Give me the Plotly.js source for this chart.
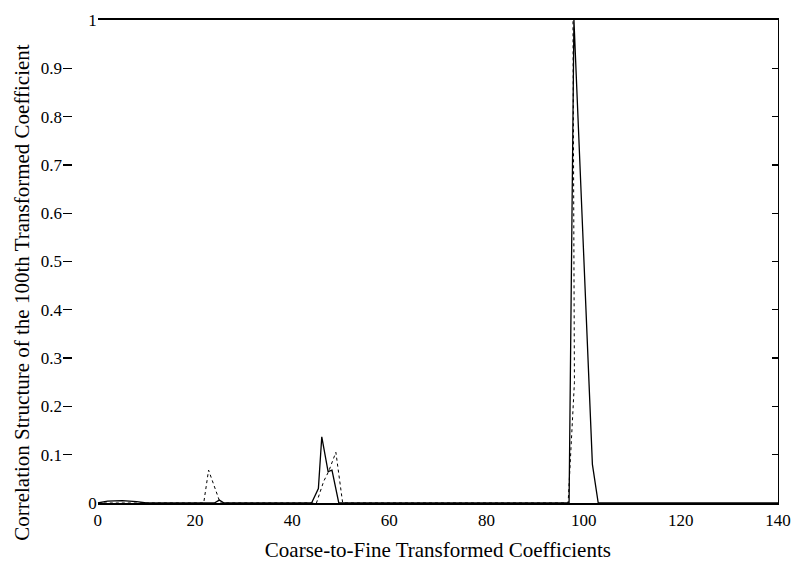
<!DOCTYPE html>
<html>
<head>
<meta charset="utf-8">
<script src="https://cdn.plot.ly/plotly-3.0.1.min.js"></script>
<style>html,body{margin:0;padding:0;background:#fff;}#chart{width:798px;height:568px;}</style>
</head>
<body>
<div id="chart"></div>
<script>
// Solid series (x positions of the coefficients, correlation values)
var solidX = [0, 2, 5, 8, 10, 24, 25, 26, 44, 45.4, 46.1, 47.4, 48.2, 49.2, 49.6, 60, 97, 98, 101.8, 103, 140];
var solidY = [0, 0.004, 0.005, 0.003, 0, 0, 0.006, 0, 0, 0.03, 0.137, 0.065, 0.068, 0.017, 0, 0, 0, 1.0, 0.08, 0, 0];

// Dashed series
var dashX = [0, 21.8, 22.8, 25.2, 45, 46.5, 47.5, 49, 50.4, 96.8, 98.1, 97.8];
var dashY = [0, 0, 0.068, 0, 0, 0.045, 0.065, 0.105, 0, 0, 0.25, 1.0];

var xTicks = [0, 20, 40, 60, 80, 100, 120, 140];
var yEndTicks = [0, 1];
var yInnerTicks = [0.1, 0.2, 0.3, 0.4, 0.5, 0.6, 0.7, 0.8, 0.9];
var yAllTicks = [0, 0.1, 0.2, 0.3, 0.4, 0.5, 0.6, 0.7, 0.8, 0.9, 1];

var serif = "Liberation Serif, Times New Roman, serif";

var traces = [
  {x: solidX, y: solidY, yaxis: 'y', mode: 'lines', line: {color: '#000', width: 1.3}, showlegend: false, hoverinfo: 'skip'},
  {x: dashX, y: dashY, yaxis: 'y3', mode: 'lines', line: {color: '#000', width: 1, dash: '3px,3px'}, showlegend: false, hoverinfo: 'skip'},
  {x: [], y: [], yaxis: 'y2', mode: 'lines', showlegend: false, hoverinfo: 'skip'}
];

var layout = {
  width: 798, height: 568,
  margin: {l: 62, r: 20, t: 20, b: 65},
  paper_bgcolor: '#fff', plot_bgcolor: '#fff',
  showlegend: false,
  xaxis: {
    domain: [0.05, 1],
    range: [0, 140], tickvals: xTicks, ticktext: xTicks.map(String),
    showgrid: false, zeroline: false,
    showline: true, linecolor: '#000', linewidth: 2.2, mirror: true,
    ticks: '', tickfont: {family: serif, size: 17, color: '#000'},
    title: {text: 'Coarse-to-Fine Transformed Coefficients', font: {family: serif, size: 21, color: '#000'}, standoff: 14}
  },
  yaxis: {
    range: [0, 1], tickvals: yEndTicks, ticktext: yEndTicks.map(String),
    showgrid: false, zeroline: false, showline: false, ticks: '',
    tickfont: {family: serif, size: 17, color: '#000'}
  },
  yaxis3: {
    range: [0, 1], overlaying: 'y', anchor: 'free', position: 0, side: 'left',
    tickvals: yInnerTicks, ticktext: yInnerTicks.map(String),
    showgrid: false, zeroline: false, showline: false,
    ticks: 'inside', ticklen: 9, tickwidth: 1.3, tickcolor: '#000',
    tickfont: {family: serif, size: 17, color: '#000'}
  },
  yaxis2: {
    range: [0, 1], overlaying: 'y', side: 'right', anchor: 'x', tickvals: yAllTicks,
    showticklabels: false, showgrid: false, zeroline: false,
    showline: true, linecolor: '#000', linewidth: 1.3,
    ticks: 'inside', ticklen: 6, tickwidth: 1.3, tickcolor: '#000'
  },
  annotations: [{
    text: 'Correlation Structure of the 100th Transformed Coefficient',
    xref: 'paper', yref: 'paper', x: -0.056, y: 0.437,
    xanchor: 'center', yanchor: 'middle', textangle: -90, showarrow: false,
    font: {family: serif, size: 21, color: '#000'}
  }]
};

Plotly.newPlot('chart', traces, layout, {staticPlot: true, displayModeBar: false});
</script>
</body>
</html>
